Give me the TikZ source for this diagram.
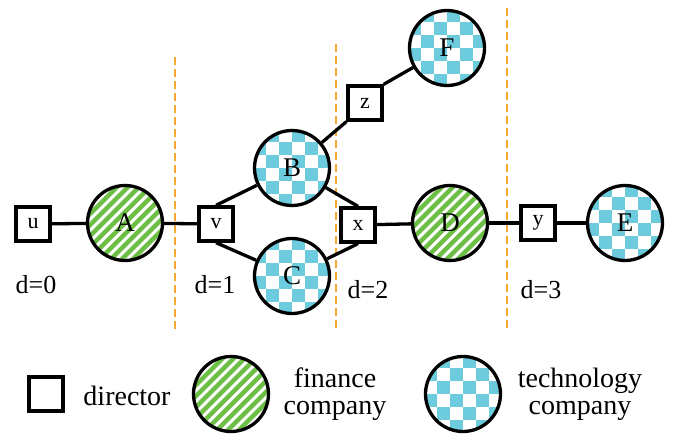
\documentclass[tikz,border=0pt]{standalone}
\usepackage{fontspec}
\setmainfont{Liberation Serif}
\definecolor{fingreen}{RGB}{108,190,69}
\definecolor{techblue}{RGB}{108,203,221}
\definecolor{sepline}{RGB}{247,168,50}
\tikzset{
  director/.style={rectangle, draw, line width=3.3pt, minimum size=34pt, inner sep=0pt,
    fill=white, font=\fontsize{22}{22}\selectfont},
  company/.style={circle, line width=3.3pt, minimum size=75pt, inner sep=0pt,
    font=\fontsize{27}{27}\selectfont, postaction={draw, line width=3.3pt}},
  finance/.style={company,
    path picture={
      \foreach \k in {-132,-121,...,132}
        \draw[fingreen, line width=4.4pt]
          ([shift={(\k pt-60pt,-60pt)}]path picture bounding box.center) -- ++(120pt,120pt);
    }},
  tech/.style={company,
    path picture={
      \foreach \i in {-4,-2,...,2}
        \foreach \j in {-4,-2,...,2} {
          \fill[techblue] ([shift={(\i*13pt,\j*13pt)}]path picture bounding box.center)
            rectangle ++(13pt,13pt);
          \fill[techblue] ([shift={(\i*13pt+13pt,\j*13pt+13pt)}]path picture bounding box.center)
            rectangle ++(13pt,13pt);
        }
    }},
  edge/.style={line width=3.3pt},
  sep/.style={sepline, line width=1.8pt, dash pattern=on 8pt off 4pt},
  dlabel/.style={font=\fontsize{26}{26}\selectfont, inner sep=0pt},
  legtext/.style={font=\fontsize{28}{27}\selectfont, align=center, inner sep=0pt}
}
\begin{document}
\begin{tikzpicture}[x=1pt, y=-1pt]
  \useasboundingbox (0,0) rectangle (674,436);

  % distance separators
  \coordinate (s1t) at (175,57);  \coordinate (s1b) at (175,330);
  \coordinate (s2t) at (336,44);  \coordinate (s2b) at (336,330);
  \coordinate (s3t) at (507,8);   \coordinate (s3b) at (507,330);
  \draw[sep] (s1t) -- (s1b);
  \draw[sep] (s2t) -- (s2b);
  \draw[sep] (s3t) -- (s3b);

  % directors
  \node[director] (u) at (33,224) {u};
  \node[director] (v) at (216,224) {v};
  \node[director] (x) at (358,225) {x};
  \node[director] (y) at (538,223) {y};
  \node[director] (z) at (365,103) {z};

  % companies
  \node[finance] (A) at (125,223) {A};
  \node[tech]    (B) at (292,168) {B};
  \node[tech]    (C) at (292,276) {C};
  \node[finance] (D) at (450,223) {D};
  \node[tech]    (E) at (625,223) {E};
  \node[tech]    (F) at (447,48) {F};

  % links
  \draw[edge] (u) -- (A);
  \draw[edge] (A) -- (v);
  \draw[edge] (v.north) -- (B);
  \draw[edge] (v.south) -- (C);
  \draw[edge] (B) -- (x.north);
  \draw[edge] (C) -- (x.south);
  \draw[edge] (B) -- (z.south west);
  \draw[edge] (z.north east) -- (F);
  \draw[edge] (x) -- (D);
  \draw[edge] (D) -- (y);
  \draw[edge] (y) -- (E);

  % distance labels
  \node[dlabel] (d0) at (36,285) {d=0};
  \node[dlabel] (d1) at (215,285) {d=1};
  \node[dlabel] (d2) at (368,290) {d=2};
  \node[dlabel] (d3) at (541,290) {d=3};

  % legend
  \node[director] (lgd) at (46,394) {};
  \node[legtext]  (lgdt) at (127,396) {director};
  \node[finance]  (lgf) at (231,394) {};
  \node[legtext]  (lgft) at (335,394) {finance\\company};
  \node[tech]     (lgt) at (463,394) {};
  \node[legtext]  (lgtt) at (580,394) {technology\\company};
\end{tikzpicture}
\end{document}
